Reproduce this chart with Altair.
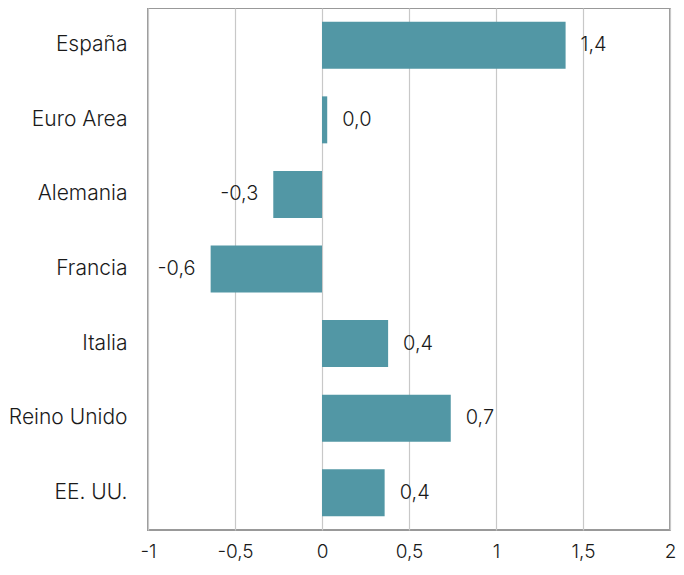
import altair as alt
import pandas as pd

paises = ["España", "Euro Area", "Alemania", "Francia", "Italia", "Reino Unido", "EE. UU."]
valores = [1.40, 0.03, -0.28, -0.64, 0.38, 0.74, 0.36]

df = pd.DataFrame({"pais": paises, "v": valores})

FONT = "Inter"
FS = 20
W = 300
TXT = "#1a1a1a"
COLOR = "#5297a5"

y = alt.Y("pais:N", sort=paises, title=None,
          scale=alt.Scale(paddingInner=0.37, paddingOuter=0.185),
          axis=alt.Axis(domain=False, ticks=False, labelPadding=21, labelFontSize=21,
                        labelFont=FONT, labelColor=TXT, labelFontWeight=W))
x = alt.X("v:Q", title=None,
          scale=alt.Scale(domain=[-1, 2], nice=False),
          axis=alt.Axis(values=[-1, -0.5, 0, 0.5, 1, 1.5, 2], domain=False, ticks=False,
                        labelExpr="replace(toString(datum.value), '.', ',')",
                        labelPadding=12, labelFontSize=19, labelFont=FONT,
                        labelColor=TXT, labelFontWeight=W,
                        grid=True, gridColor="#c8c8c8", gridWidth=1.2, labelFlush=False))

base = alt.Chart(df).transform_calculate(
    lab="replace(replace(format(datum.v, '.1f'), '.', ','), '\u2212', '-')"
)

bars = base.mark_bar(color=COLOR).encode(x=x, y=y)

pos = base.transform_filter("datum.v >= 0").mark_text(
    align="left", dx=15, fontSize=FS, font=FONT, color=TXT, fontWeight=W
).encode(x="v:Q", y=alt.Y("pais:N", sort=paises), text="lab:N")

neg = base.transform_filter("datum.v < 0").mark_text(
    align="right", dx=-15, fontSize=FS, font=FONT, color=TXT, fontWeight=W
).encode(x="v:Q", y=alt.Y("pais:N", sort=paises), text="lab:N")

chart = (bars + pos + neg).properties(
    width=522, height=522, padding={"left": 0, "top": 0, "right": 0, "bottom": 0}
).configure_view(stroke="#999", strokeWidth=2)

chart.save("out.html", embed_options={"renderer": "svg", "actions": False})
